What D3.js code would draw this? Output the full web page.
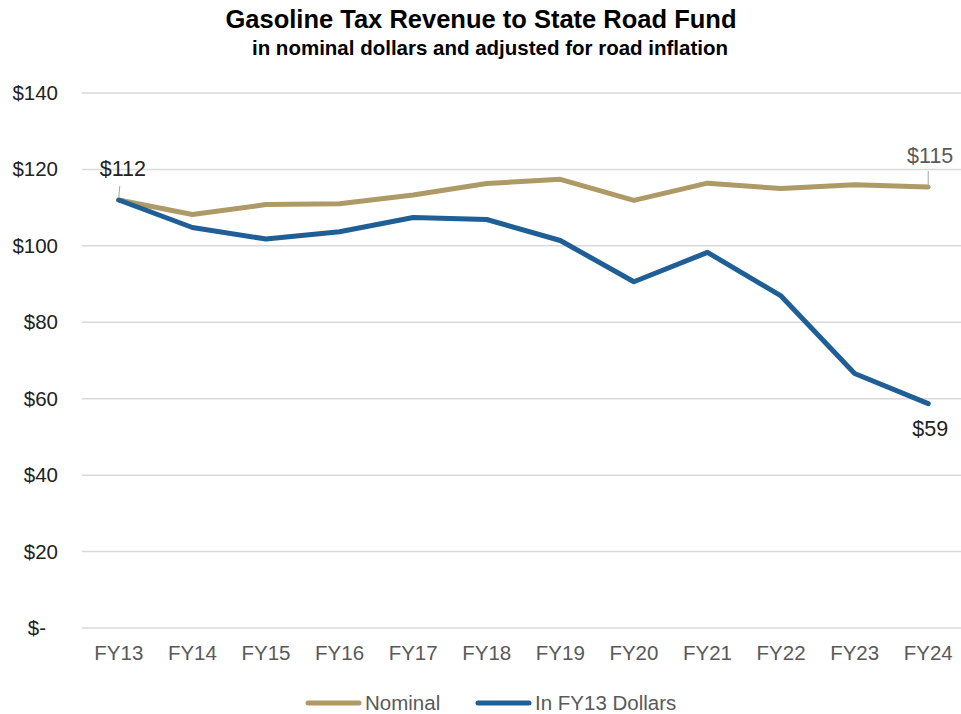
<!DOCTYPE html>
<html>
<head>
<meta charset="utf-8">
<script src="https://cdn.jsdelivr.net/npm/d3@7"></script>
<style>
  body { margin: 0; background: #fff; }
  text { font-family: "Liberation Sans", Arial, sans-serif; }
</style>
</head>
<body>
<svg id="chart" width="961" height="714"></svg>
<script>
// ----------- DATA -----------
const years = ["FY13", "FY14", "FY15", "FY16", "FY17", "FY18", "FY19", "FY20", "FY21", "FY22", "FY23", "FY24"];
const nominal = [112, 108.2, 110.8, 111.0, 113.3, 116.3, 117.4, 111.9, 116.4, 115.0, 116.0, 115.4];
const realFY13 = [112, 104.8, 101.8, 103.7, 107.4, 106.9, 101.4, 90.6, 98.3, 86.9, 66.6, 58.7];
const yTicks = [0, 20, 40, 60, 80, 100, 120, 140];

const svg = d3.select("#chart");
const plotLeft = 82, plotRight = 965, plotTop = 93, plotBottom = 628;

const x = d3.scalePoint().domain(years).range([plotLeft, plotRight]).padding(0.5);
const y = d3.scaleLinear().domain([0, 140]).range([plotBottom, plotTop]);

// title
svg.append("text").attr("x", 481).attr("y", 28).attr("text-anchor", "middle")
  .attr("font-size", 25.5).attr("font-weight", "bold").attr("fill", "#000")
  .text("Gasoline Tax Revenue to State Road Fund");
svg.append("text").attr("x", 490).attr("y", 55).attr("text-anchor", "middle")
  .attr("font-size", 20.5).attr("font-weight", "bold").attr("fill", "#000")
  .text("in nominal dollars and adjusted for road inflation");

// grid
svg.append("g").selectAll("line").data(yTicks).enter().append("line")
  .attr("x1", plotLeft).attr("x2", plotRight)
  .attr("y1", d => y(d)).attr("y2", d => y(d))
  .attr("stroke", "#d9d9d9").attr("stroke-width", 1.5);

// y labels
svg.append("g").selectAll("text").data(yTicks).enter().append("text")
  .attr("x", d => d === 0 ? 46 : 58).attr("y", d => y(d) + 7)
  .attr("text-anchor", "end").attr("font-size", 20.5).attr("fill", "#222")
  .text(d => d === 0 ? "$-" : "$" + d);

// x labels
svg.append("g").selectAll("text").data(years).enter().append("text")
  .attr("x", d => x(d)).attr("y", 660)
  .attr("text-anchor", "middle").attr("font-size", 20.5).attr("fill", "#595959")
  .text(d => d);

const line = d3.line().x((d, i) => x(years[i])).y(d => y(d));

svg.append("path").datum(nominal).attr("d", line)
  .attr("fill", "none").attr("stroke", "#ae9a67").attr("stroke-width", 5)
  .attr("stroke-linejoin", "round").attr("stroke-linecap", "round");
svg.append("path").datum(realFY13).attr("d", line)
  .attr("fill", "none").attr("stroke", "#1f5f96").attr("stroke-width", 5)
  .attr("stroke-linejoin", "round").attr("stroke-linecap", "round");

// data labels with leader lines
const x0 = x(years[0]), xN = x(years[years.length - 1]);
svg.append("line").attr("x1", x0 + 1).attr("x2", x0)
  .attr("y1", y(nominal[0]) - 14).attr("y2", y(nominal[0]) - 2)
  .attr("stroke", "#a6a6a6").attr("stroke-width", 1);
svg.append("text").attr("x", x0 + 4).attr("y", 176).attr("text-anchor", "middle")
  .attr("font-size", 21.5).attr("fill", "#222").text("$" + Math.round(nominal[0]));

svg.append("line").attr("x1", xN).attr("x2", xN)
  .attr("y1", y(nominal[11]) - 16).attr("y2", y(nominal[11]) - 1)
  .attr("stroke", "#a6a6a6").attr("stroke-width", 1);
svg.append("text").attr("x", xN + 2).attr("y", 163).attr("text-anchor", "middle")
  .attr("font-size", 21.5).attr("fill", "#595959").text("$" + Math.floor(nominal[11]));

svg.append("text").attr("x", xN + 2).attr("y", 436).attr("text-anchor", "middle")
  .attr("font-size", 21.5).attr("fill", "#222").text("$" + Math.round(realFY13[11]));

// legend
const legend = [
  { name: "Nominal", color: "#ae9a67", x: 308 },
  { name: "In FY13 Dollars", color: "#1f5f96", x: 478 }
];
const lg = svg.append("g").selectAll("g").data(legend).enter().append("g");
lg.append("line").attr("x1", d => d.x).attr("x2", d => d.x + 51)
  .attr("y1", 703).attr("y2", 703)
  .attr("stroke", d => d.color).attr("stroke-width", 5).attr("stroke-linecap", "round");
lg.append("text").attr("x", d => d.x + 57).attr("y", 710)
  .attr("font-size", 20.5).attr("fill", "#595959").text(d => d.name);
</script>
</body>
</html>
